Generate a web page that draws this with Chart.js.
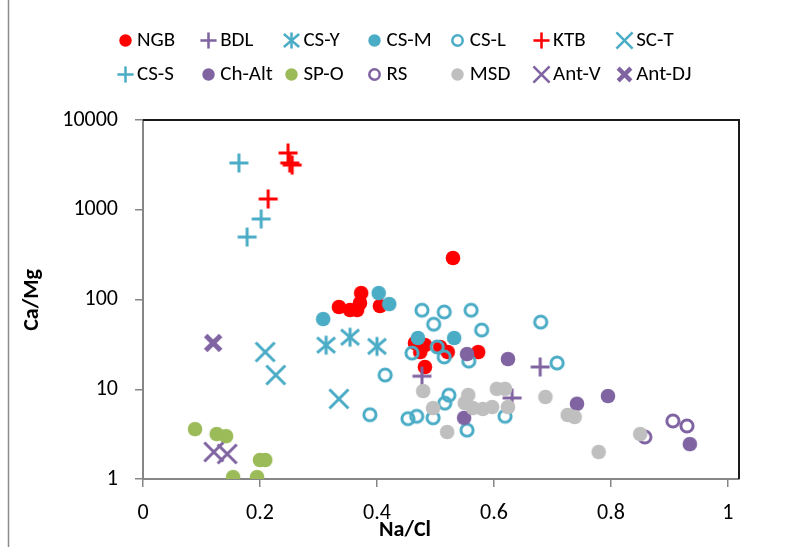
<!DOCTYPE html>
<html>
<head>
<meta charset="utf-8">
<script src="https://cdn.jsdelivr.net/npm/chart.js@4/dist/chart.umd.min.js"></script>
<style>
  html, body { margin: 0; padding: 0; background: #fff; }
  #wrap { width: 787px; height: 547px; position: relative; }
</style>
</head>
<body>
<div id="wrap"><canvas id="c" width="787" height="547"></canvas></div>
<script>
// Series names, in legend order
const seriesNames = ['NGB', 'BDL', 'CS-Y', 'CS-M', 'CS-L', 'KTB', 'SC-T',
                     'CS-S', 'Ch-Alt', 'SP-O', 'RS', 'MSD', 'Ant-V', 'Ant-DJ'];

// Na/Cl (x) and Ca/Mg (y) per series
const ngbNaCl  = [0.335, 0.354, 0.366, 0.373, 0.371, 0.405, 0.530, 0.465, 0.482, 0.474, 0.508, 0.521, 0.482, 0.573];
const ngbCaMg  = [82.5, 76.4, 76.4, 118, 91.4, 84.7, 290, 32.8, 31.1, 26, 29.6, 26, 17.7, 26];

const bdlNaCl  = [0.477, 0.631, 0.679];
const bdlCaMg  = [14, 8.0, 17.7];

const csyNaCl  = [0.313, 0.354, 0.400];
const csyCaMg  = [31, 38, 30];

const csmNaCl  = [0.403, 0.421, 0.308, 0.470, 0.532];
const csmCaMg  = [118, 89, 60.6, 37.3, 37.3];

const cslNaCl  = [0.477, 0.515, 0.561, 0.497, 0.579, 0.680, 0.708, 0.460, 0.503, 0.515, 0.557,
                  0.414, 0.388, 0.453, 0.468, 0.496, 0.523, 0.516, 0.554, 0.619];
const cslCaMg  = [76, 72.6, 76, 53, 45.7, 56, 19.6, 25.3, 29.6, 22.9, 20.6,
                  14.4, 5.2, 4.7, 5.0, 4.8, 8.6, 7.0, 3.5, 5.0];

const ktbNaCl  = [0.248, 0.251, 0.255, 0.214];
const ktbCaMg  = [4290, 3320, 3150, 1318];

const sctNaCl  = [0.209, 0.227, 0.335];
const sctCaMg  = [26, 14.4, 7.8];

const cssNaCl  = [0.164, 0.202, 0.178];
const cssCaMg  = [3320, 789, 497];

const chaltNaCl = [0.554, 0.624, 0.549, 0.742, 0.795, 0.935];
const chaltCaMg = [24.7, 21.7, 4.8, 6.9, 8.4, 2.45];

const spoNaCl  = [0.089, 0.126, 0.142, 0.200, 0.209, 0.154, 0.195];
const spoCaMg  = [3.6, 3.17, 3.0, 1.63, 1.63, 1.05, 1.05];

const rsNaCl   = [0.858, 0.906, 0.930];
const rsCaMg   = [2.94, 4.43, 3.9];

const msdNaCl  = [0.479, 0.496, 0.520, 0.556, 0.550, 0.564, 0.581, 0.597, 0.605, 0.619, 0.624,
                  0.688, 0.726, 0.738, 0.779, 0.850];
const msdCaMg  = [9.56, 6.18, 3.34, 8.63, 7.03, 6.18, 6.03, 6.34, 10.1, 10.1, 6.34,
                  8.2, 5.17, 4.91, 2.0, 3.17];

const antvNaCl = [0.121, 0.144];
const antvCaMg = [2.0, 1.9];

const antdjNaCl = [0.120];
const antdjCaMg = [32.8];

// Axis tick values
const xTicks = [0, 0.2, 0.4, 0.6, 0.8, 1];
const yTicks = [1, 10, 100, 1000, 10000];

const RED = '#FF0000', TEAL = '#4BACC6', PURPLE = '#8064A2', GREEN = '#9BBB59', GRAY = '#BFBFBF';
const FONT = 'Carlito, Calibri, Lato, "Liberation Sans", sans-serif';

// Marker images (Excel-like symbols)
function makeMarker(kind, color, k) {
  const S = Math.ceil(26 * k);
  const cv = document.createElement('canvas');
  cv.width = S; cv.height = S;
  const g = cv.getContext('2d');
  const c = S / 2;
  g.strokeStyle = color; g.fillStyle = color; g.lineCap = 'butt';
  const line = (x1, y1, x2, y2) => { g.beginPath(); g.moveTo(c + x1, c + y1); g.lineTo(c + x2, c + y2); g.stroke(); };
  if (kind === 'dot') {
    g.beginPath(); g.arc(c, c, 7.3 * k, 0, Math.PI * 2); g.fill();
  } else if (kind === 'ring') {
    g.lineWidth = 3 * k;
    g.beginPath(); g.arc(c, c, 6.1 * k, 0, Math.PI * 2); g.stroke();
  } else if (kind === 'plus') {
    g.lineWidth = 3 * k; const h = 9.5 * k;
    line(-h, 0, h, 0); line(0, -h, 0, h);
  } else if (kind === 'x') {
    g.lineWidth = 3 * k; const h = 9.5 * k;
    line(-h, -h, h, h); line(-h, h, h, -h);
  } else if (kind === 'xbold') {
    g.lineWidth = 5 * k; const h = 7.5 * k;
    line(-h, -h, h, h); line(-h, h, h, -h);
  } else if (kind === 'star') {
    g.lineWidth = 3 * k; const h = 9 * k;
    line(-h, -h * 0.85, h, h * 0.85); line(-h, h * 0.85, h, -h * 0.85); line(0, -h * 1.05, 0, h * 1.05);
  }
  return cv;
}

const styleDefs = [
  ['dot', RED], ['plus', PURPLE], ['star', TEAL], ['dot', TEAL], ['ring', TEAL], ['plus', RED], ['x', TEAL],
  ['plus', TEAL], ['dot', PURPLE], ['dot', GREEN], ['ring', PURPLE], ['dot', GRAY], ['x', PURPLE], ['xbold', PURPLE]
];
const seriesX = [ngbNaCl, bdlNaCl, csyNaCl, csmNaCl, cslNaCl, ktbNaCl, sctNaCl,
                 cssNaCl, chaltNaCl, spoNaCl, rsNaCl, msdNaCl, antvNaCl, antdjNaCl];
const seriesY = [ngbCaMg, bdlCaMg, csyCaMg, csmCaMg, cslCaMg, ktbCaMg, sctCaMg,
                 cssCaMg, chaltCaMg, spoCaMg, rsCaMg, msdCaMg, antvCaMg, antdjCaMg];

const plotMarkers = styleDefs.map(([k, col]) => makeMarker(k, col, 1));
const legendMarkers = styleDefs.map(([k, col]) => makeMarker(k, col, 0.85));

const datasets = seriesNames.map((name, i) => ({
  label: name,
  data: seriesX[i].map((x, j) => ({ x: x, y: seriesY[i][j] })),
  pointStyle: plotMarkers[i],
  pointRadius: 8,
  pointHoverRadius: 8,
  showLine: false,
  order: seriesNames.length - i   // later series drawn on top
}));

// Chart frame, plot border, legend grid and axis titles
const decorations = {
  id: 'decorations',
  beforeDraw(chart) {
    const ctx = chart.ctx;
    ctx.save();
    ctx.fillStyle = '#fff';
    ctx.fillRect(0, 0, chart.width, chart.height);
    ctx.strokeStyle = '#8c8c8c';
    ctx.lineWidth = 1.5;
    ctx.beginPath(); ctx.moveTo(8.5, 0); ctx.lineTo(8.5, chart.height); ctx.stroke();
    ctx.restore();
  },
  afterDraw(chart) {
    const ctx = chart.ctx;
    const a = chart.chartArea;
    ctx.save();
    // top and right border of the plot area
    ctx.strokeStyle = '#1a1a1a';
    ctx.lineWidth = 2;
    ctx.beginPath();
    ctx.moveTo(a.left, a.top); ctx.lineTo(a.right, a.top); ctx.lineTo(a.right, a.bottom);
    ctx.stroke();

    // legend: two rows, seven columns
    ctx.font = '21px ' + FONT;
    ctx.fillStyle = '#000';
    ctx.textBaseline = 'middle';
    ctx.textAlign = 'left';
    seriesNames.forEach((name, i) => {
      const col = i % 7, row = Math.floor(i / 7);
      const mx = 125 + col * 83.2;
      const my = 40 + row * 34;
      const m = legendMarkers[i];
      ctx.drawImage(m, Math.round(mx - m.width / 2), Math.round(my - m.height / 2));
      ctx.fillText(name, mx + 12, my + 1);
    });

    // axis titles
    ctx.font = 'bold 22px ' + FONT;
    ctx.textAlign = 'center';
    ctx.fillText('Na/Cl', 405, 530);
    ctx.translate(32, 300);
    ctx.rotate(-Math.PI / 2);
    ctx.fillText('Ca/Mg', 0, 0);
    ctx.restore();
  }
};

new Chart(document.getElementById('c'), {
  type: 'scatter',
  data: { datasets },
  options: {
    responsive: false,
    animation: false,
    events: [],
    layout: { padding: { top: 120, right: 48, left: 0, bottom: 0 } },
    plugins: { legend: { display: false }, tooltip: { enabled: false } },
    scales: {
      x: {
        type: 'linear',
        min: 0,
        max: 1.019,
        afterBuildTicks: s => { s.ticks = xTicks.map(v => ({ value: v })); },
        afterFit: s => { s.height = 68; },
        ticks: {
          color: '#000',
          font: { family: FONT, size: 22 },
          padding: 13,
          maxRotation: 0,
          callback: v => String(v)
        },
        grid: { drawOnChartArea: false, drawTicks: true, tickLength: 8, color: '#868686', lineWidth: 1.5 },
        border: { color: '#868686', width: 2 }
      },
      y: {
        type: 'logarithmic',
        min: 1,
        max: 10000,
        afterBuildTicks: s => { s.ticks = yTicks.map(v => ({ value: v })); },
        afterFit: s => { s.width = 143; },
        ticks: {
          color: '#000',
          font: { family: FONT, size: 22 },
          padding: 17,
          callback: v => String(v)
        },
        grid: { drawOnChartArea: false, drawTicks: true, tickLength: 8, color: '#868686', lineWidth: 1.5 },
        border: { color: '#868686', width: 2 }
      }
    }
  },
  plugins: [decorations]
});
</script>
</body>
</html>
